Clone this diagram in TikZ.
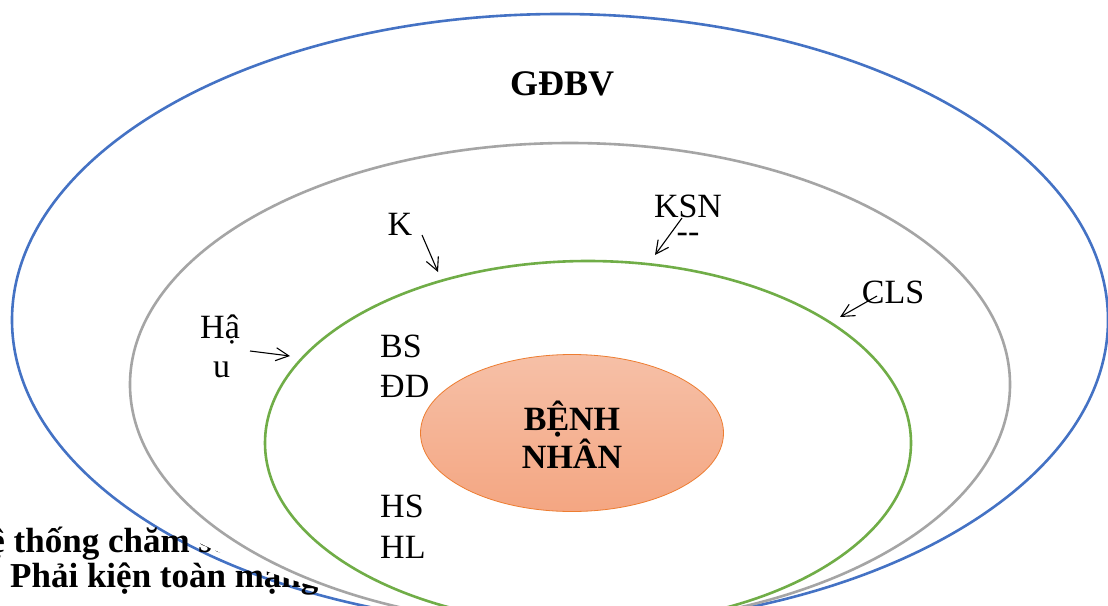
\documentclass[tikz,border=0pt]{standalone}
\usepackage{fontspec}
\setmainfont{Liberation Serif}
\usetikzlibrary{arrows.meta,shapes.geometric}
\definecolor{cblue}{HTML}{4472C4}
\definecolor{cgray}{HTML}{A5A5A5}
\definecolor{cgreen}{HTML}{70AD47}
\definecolor{corange}{HTML}{ED7D31}
\definecolor{ctop}{RGB}{246,192,167}
\definecolor{cbot}{RGB}{244,166,130}
\tikzset{
  ring/.style={ellipse, draw, line width=2.6pt, fill=white, inner sep=0pt},
  lbl/.style={font=\fontsize{34}{40}\selectfont, inner sep=0pt, align=left},
  blbl/.style={font=\fontsize{34}{38}\selectfont\bfseries, inner sep=0pt, align=center},
  bgtext/.style={font=\fontsize{35}{36}\selectfont\bfseries, anchor=base west, inner sep=0pt},
  pointer/.style={line width=1.1pt, -{Straight Barb[length=13pt,width=13pt,line width=1.1pt]}},
}
\begin{document}
\begin{tikzpicture}[x=1pt,y=-1pt]
\useasboundingbox (0,0) rectangle (1108,605);
% outer ring
\node[ring, draw=cblue, minimum width=1096pt, minimum height=612pt] (gdbv) at (560,320) {};
% text lying over the outer ring, hidden a little inside it
\node[bgtext] (t1) at (-38,552) {Hệ thống chăm sóc};
\node[bgtext] (t2) at (10,587) {Phải kiện toàn mạng lưới};
\node[ellipse, fill=white, minimum width=1082pt, minimum height=598pt, inner sep=0pt] (mask) at (560,320) {};
% inner rings
\node[ring, draw=cgray, minimum width=880pt, minimum height=483pt] (khoa) at (570,384.5) {};
\node[ring, draw=cgreen, minimum width=646pt, minimum height=364pt] (nv) at (588,443) {};
\node[ellipse, draw=corange, line width=0.8pt, top color=ctop, bottom color=cbot, minimum width=303pt, minimum height=157pt, inner sep=0pt] (bn) at (572,433) {};
\node[blbl] (bntext) at (572,435) {BỆNH\\NHÂN};
% labels
\node[blbl, font=\fontsize{36}{40}\selectfont\bfseries, anchor=base] (gd) at (562,95) {GĐBV};
\node[lbl, anchor=base] (k) at (400,235) {K};
\node[lbl, anchor=base] (ksn) at (688,217) {KSN};
\node[lbl, anchor=base] (dash) at (688,242) {-{}-};
\node[lbl, anchor=base] (cls) at (893,303) {CLS};
\node[lbl, anchor=base west] (hau1) at (200,338) {Hậ};
\node[lbl, anchor=base west] (hau2) at (213,377) {u};
\node[lbl, anchor=base west] (bs) at (380,357) {BS};
\node[lbl, anchor=base west] (dd) at (380,397) {ĐD};
\node[lbl, anchor=base west] (hs) at (380,517) {HS};
\node[lbl, anchor=base west] (hl) at (380,558) {HL};
% pointers
\coordinate (k0) at (422,235);   \coordinate (k1) at (438,272);
\coordinate (s0) at (682,218);   \coordinate (s1) at (655,255);
\coordinate (c0) at (877,296);   \coordinate (c1) at (840,317);
\coordinate (h0) at (250,351);   \coordinate (h1) at (290,356);
\draw[pointer] (k0) -- (k1);
\draw[pointer] (s0) -- (s1);
\draw[pointer] (c0) -- (c1);
\draw[pointer] (h0) -- (h1);
\end{tikzpicture}
\end{document}
